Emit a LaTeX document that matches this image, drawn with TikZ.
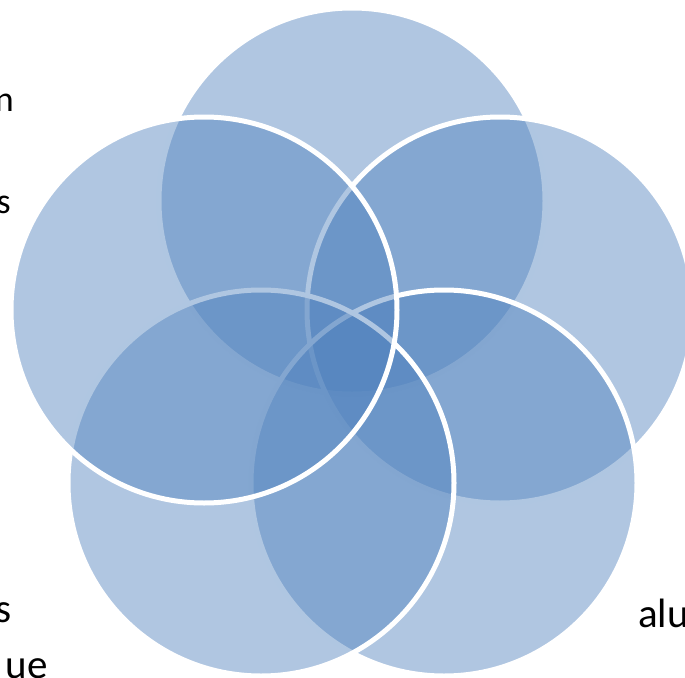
\documentclass[tikz,border=0pt]{standalone}
\usepackage{fontspec}
\setmainfont{Carlito}
\definecolor{vennblue}{HTML}{4F81BD}
\begin{document}
\begin{tikzpicture}[x=1pt,y=-1pt,
  venn/.style={circle, inner sep=0pt, minimum size=386pt, fill=vennblue, fill opacity=0.45, draw=white, line width=5pt},
  lbl/.style={inner sep=0pt, font=\fontsize{36}{42}\selectfont, text=black},
  lblbig/.style={inner sep=0pt, font=\fontsize{41}{46}\selectfont, text=black}]
\useasboundingbox (0,0) rectangle (685,677);
\begin{scope}
\clip (0,0) rectangle (685,677);
\node[venn] (ctop) at (352,201) {};
\node[venn] (cright) at (500,310) {};
\node[venn] (cbr) at (444,483) {};
\node[venn] (cbl) at (261,483) {};
\node[venn] (cleft) at (204,310) {};
\node[lbl, anchor=base east] (t1) at (14,111) {n};
\node[lbl, anchor=base east] (t2) at (11,213) {s};
\node[lblbig, anchor=base east] (t3) at (12,622) {s};
\node[lblbig, anchor=base east] (t4) at (48,678) {ue};
\node[lblbig, anchor=base west] (t5) at (638,627) {alu};
\end{scope}
\end{tikzpicture}
\end{document}
